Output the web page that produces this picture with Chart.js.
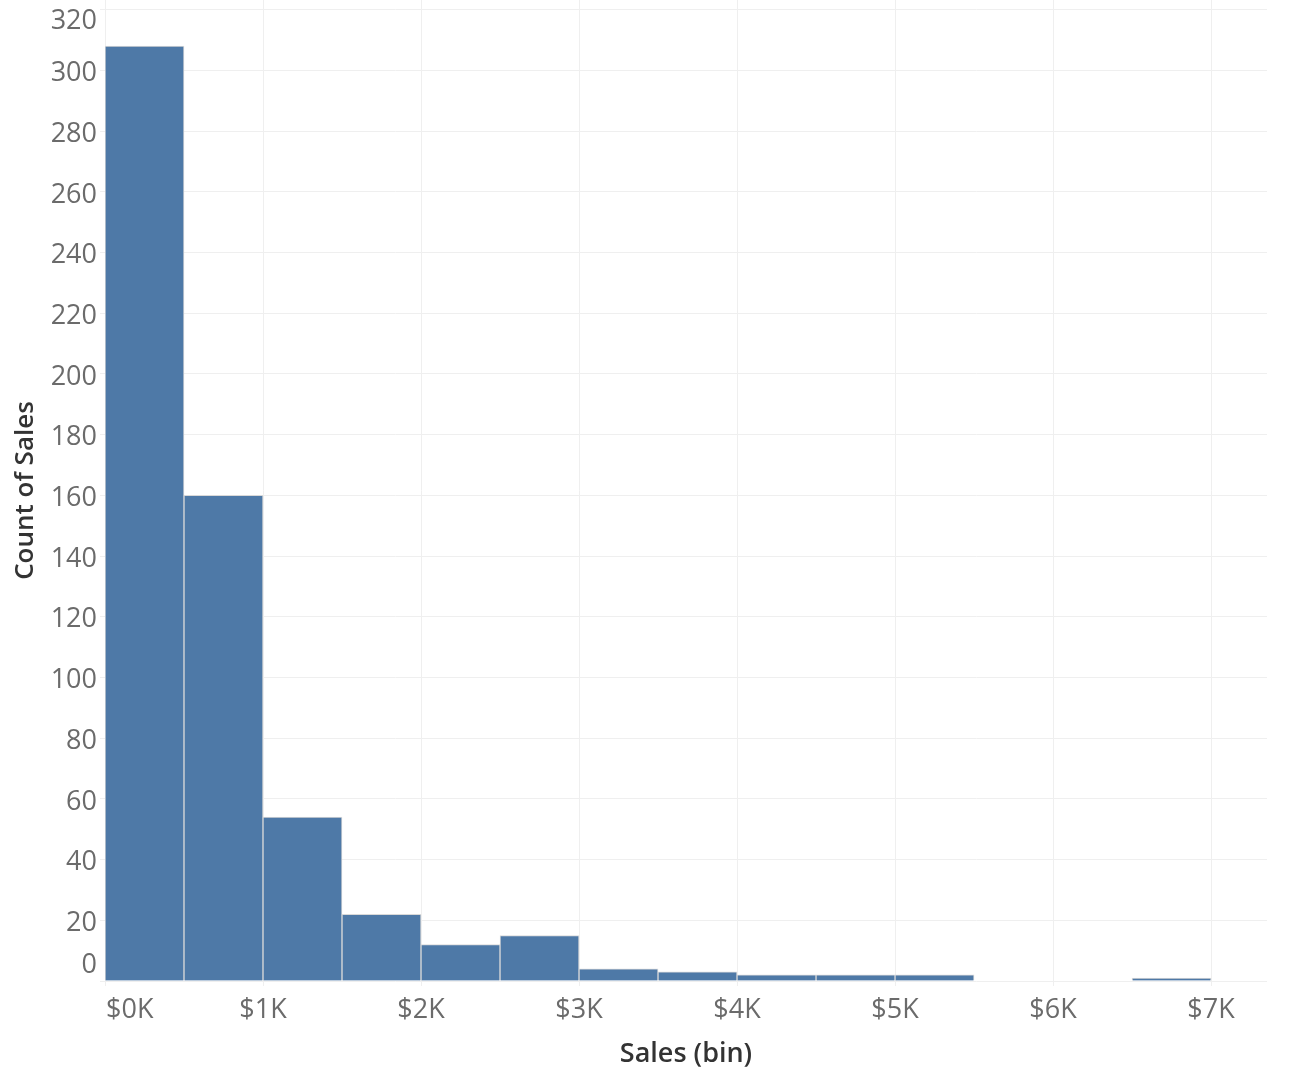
<!DOCTYPE html>
<html>
<head>
<meta charset="utf-8">
<script src="https://cdn.jsdelivr.net/npm/chart.js@4.4.1/dist/chart.umd.min.js"></script>
<style>
  html, body { margin: 0; padding: 0; background: #ffffff; }
  #wrap { position: relative; width: 1294px; height: 1076px; }
</style>
</head>
<body>
<div id="wrap"><canvas id="c"></canvas></div>
<script>
// ---- data ----
const binStarts = [0, 500, 1000, 1500, 2000, 2500, 3000, 3500, 4000, 4500, 5000, 5500, 6000, 6500];
const binWidth = 500;
const counts = [308, 160, 54, 22, 12, 15, 4, 3, 2, 2, 2, 0, 0, 1];
const xTickValues = [0, 1000, 2000, 3000, 4000, 5000, 6000, 7000];
const xTickLabels = ['$0K', '$1K', '$2K', '$3K', '$4K', '$5K', '$6K', '$7K'];
const yTickValues = [0, 20, 40, 60, 80, 100, 120, 140, 160, 180, 200, 220, 240, 260, 280, 300, 320];
const xTitle = 'Sales (bin)';
const yTitle = 'Count of Sales';

const FONT = "'Open Sans', 'Noto Sans', sans-serif";
const TICK_COLOR = '#6b6b6b';
const GRID_COLOR = '#efefef';

const points = binStarts.map((s, i) => ({ x: s + binWidth / 2, y: counts[i] }));

// Tableau-style tick labels: kept inside the axis extent
const tickLabelPlugin = {
  id: 'tickLabels',
  afterDraw(chart) {
    const ctx = chart.ctx;
    const area = chart.chartArea;
    const xs = chart.scales.x, ys = chart.scales.y;
    ctx.save();
    ctx.font = '27px ' + FONT;
    ctx.fillStyle = TICK_COLOR;
    // y labels
    ctx.textAlign = 'right';
    ctx.textBaseline = 'middle';
    yTickValues.forEach(v => {
      let py = ys.getPixelForValue(v) + 2;
      py = Math.min(Math.max(py, area.top + 20), area.bottom - 17);
      ctx.fillText(String(v), area.left - 8, py + 1);
    });
    // x labels
    ctx.textAlign = 'left';
    xTickValues.forEach((v, i) => {
      const txt = xTickLabels[i];
      const w = ctx.measureText(txt).width;
      let left = xs.getPixelForValue(v) - w / 2;
      left = Math.max(left, area.left + 1);
      left = Math.min(left, area.right - w);
      ctx.fillText(txt, left, area.bottom + 29);
    });
    ctx.restore();
  }
};

new Chart(document.getElementById('c'), {
  type: 'bar',
  data: {
    datasets: [{
      label: 'Count of Sales',
      data: points,
      backgroundColor: '#4e79a7',
      borderColor: '#d9d9d9',
      borderWidth: 1,
      borderSkipped: 'bottom',
      barPercentage: 1.0,
      categoryPercentage: 1.0
    }]
  },
  options: {
    responsive: true,
    maintainAspectRatio: false,
    animation: false,
    devicePixelRatio: 1,
    layout: { padding: { left: 0, right: 27, top: 0, bottom: 0 } },
    plugins: {
      legend: { display: false },
      tooltip: { enabled: false }
    },
    scales: {
      x: {
        type: 'linear',
        min: 0,
        max: 7354,
        offset: false,
        afterBuildTicks(scale) {
          scale.ticks = xTickValues.map(v => ({ value: v }));
        },
        afterFit(scale) { scale.height = 95; },
        ticks: { display: false, stepSize: 1000 },
        grid: { offset: false, color: GRID_COLOR, lineWidth: 1, drawTicks: true, tickLength: 5, tickColor: GRID_COLOR },
        border: { display: false },
        title: {
          display: true,
          text: xTitle,
          color: '#333333',
          font: { family: FONT, size: 27, weight: '600' },
          padding: { top: 0, bottom: 5 }
        }
      },
      y: {
        type: 'linear',
        min: 0,
        max: 323.2,
        afterBuildTicks(scale) {
          scale.ticks = yTickValues.map(v => ({ value: v }));
        },
        afterFit(scale) { scale.width = 105; },
        ticks: { display: false, stepSize: 20 },
        grid: { offset: false, color: GRID_COLOR, lineWidth: 1, drawTicks: true, tickLength: 5, tickColor: GRID_COLOR },
        border: { display: false },
        title: {
          display: true,
          text: yTitle,
          color: '#333333',
          font: { family: FONT, size: 26, weight: '600' },
          padding: { top: 10, bottom: 0 }
        }
      }
    }
  },
  plugins: [tickLabelPlugin]
});
</script>
</body>
</html>
